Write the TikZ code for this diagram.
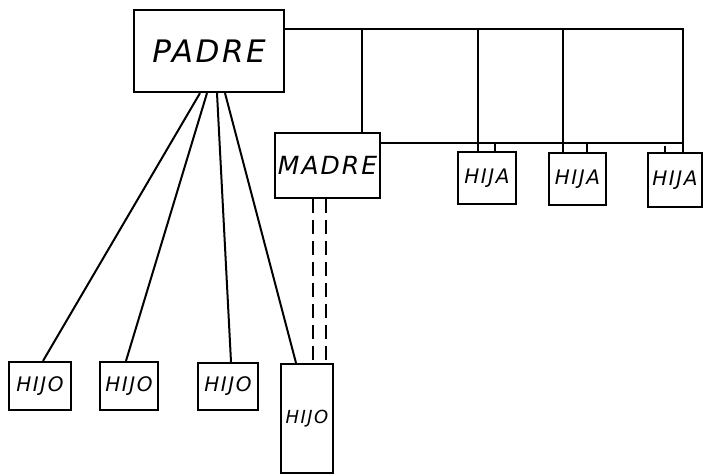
\documentclass[tikz,border=0pt]{standalone}
\usepackage{fontspec}
\usetikzlibrary{calc}
\newfontfamily\hand{DejaVu Sans}[LetterSpace=8]
\begin{document}
\begin{tikzpicture}[x=1pt,y=-1pt,
  box/.style={draw, line width=2.2pt, inner sep=0pt, font=\hand\itshape},
  conn/.style={line width=2pt},
  dashconn/.style={line width=2pt, dash pattern=on 14pt off 7pt}]
\useasboundingbox (0,0) rectangle (710,475);
% boxes
\node[box, minimum width=150, minimum height=82, font=\hand\itshape\fontsize{31}{31}\selectfont] (padre) at (209,51) {PADRE};
\node[box, minimum width=105, minimum height=65, font=\hand\itshape\fontsize{25}{25}\selectfont] (madre) at (327.5,165.5) {MADRE};
\node[box, minimum width=58, minimum height=52, font=\hand\itshape\fontsize{20}{20}\selectfont] (hija1) at (487,178) {HIJA};
\node[box, minimum width=57, minimum height=52, font=\hand\itshape\fontsize{20}{20}\selectfont] (hija2) at (577.5,179) {HIJA};
\node[box, minimum width=54, minimum height=54, font=\hand\itshape\fontsize{20}{20}\selectfont] (hija3) at (675,180) {HIJA};
\node[box, minimum width=62, minimum height=48, font=\hand\itshape\fontsize{20}{20}\selectfont] (hijo1) at (40,386) {HIJO};
\node[box, minimum width=58, minimum height=48, font=\hand\itshape\fontsize{20}{20}\selectfont] (hijo2) at (129,386) {HIJO};
\node[box, minimum width=60, minimum height=47, font=\hand\itshape\fontsize{20}{20}\selectfont] (hijo3) at (228,386.5) {HIJO};
\node[box, minimum width=52, minimum height=109, font=\hand\itshape\fontsize{18}{18}\selectfont] (hijo4) at (307,418.5) {HIJO};
% bus coordinates
\coordinate (tr) at (683,29);
\coordinate (br) at (683,143);
\coordinate (v1) at (362,29);
\coordinate (v2) at (478,29);
\coordinate (v3) at (563,29);
\coordinate (s1) at (495,143);
\coordinate (s2) at (587,143);
\coordinate (s3) at (665,146);
\coordinate (d1) at (313,0);
\coordinate (d2) at (326,0);
% top and lower bus
\draw[conn] (padre.east |- tr) -- (tr) -- (tr |- hija3.north);
\draw[conn] (madre.east |- br) -- (br);
\draw[conn] (v1) -- (v1 |- madre.north);
\draw[conn] (v2) -- (v2 |- hija1.north);
\draw[conn] (v3) -- (v3 |- hija2.north);
\draw[conn] (s1) -- (s1 |- hija1.north);
\draw[conn] (s2) -- (s2 |- hija2.north);
\draw[conn] (s3) -- (s3 |- hija3.north);
% padre to hijos
\draw[conn] (padre.south) ++(-9,0) -- ($(hijo1.north)+(3,0)$);
\draw[conn] (padre.south) ++(-2,0) -- ($(hijo2.north)+(-3,0)$);
\draw[conn] (padre.south) ++(8,0) -- ($(hijo3.north)+(3,0)$);
\draw[conn] (padre.south) ++(16,0) -- ($(hijo4.north)+(-11,0)$);
% madre to hijo (dashed)
\draw[dashconn] (d1 |- madre.south) -- (d1 |- hijo4.north);
\draw[dashconn] (d2 |- madre.south) -- (d2 |- hijo4.north);
\end{tikzpicture}
\end{document}
